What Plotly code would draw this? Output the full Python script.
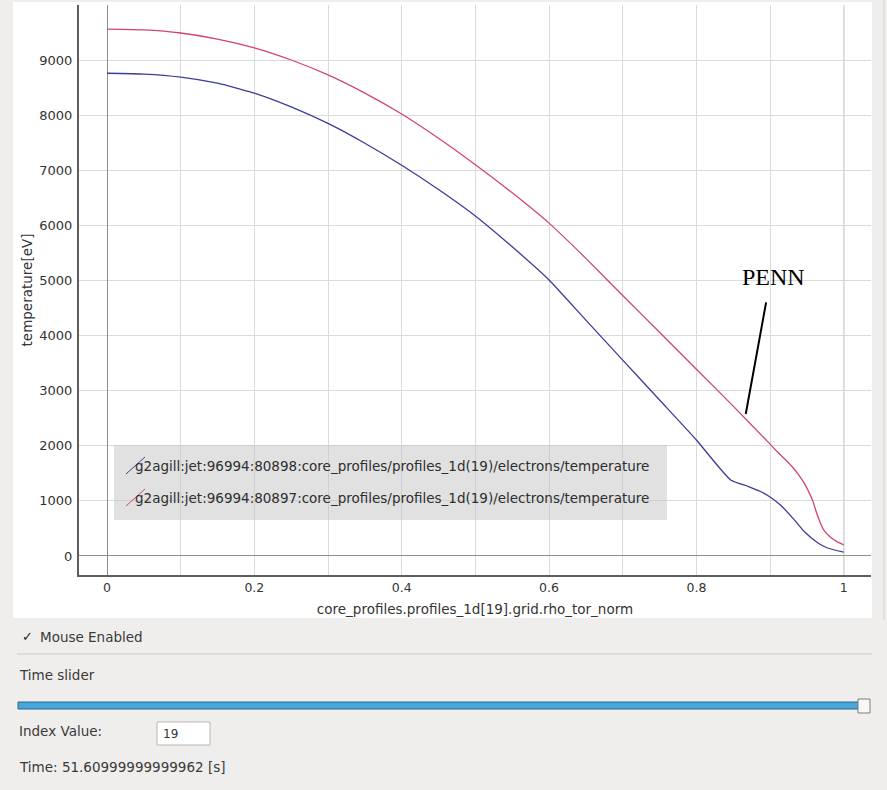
import plotly.graph_objects as go

# ---------------- data ----------------
rho_blue = [0.00, 0.05, 0.10, 0.15, 0.18, 0.20, 0.25, 0.30, 0.35, 0.40, 0.45, 0.50, 0.55, 0.60,
            0.65, 0.70, 0.75, 0.80, 0.8465, 0.87, 0.887, 0.90, 0.914, 0.932, 0.946, 0.965, 0.978, 1.00]
te_blue = [8760, 8745, 8690, 8580, 8475, 8400, 8150, 7850, 7490, 7090, 6650, 6170, 5610, 5009,
           4280, 3555, 2830, 2105, 1380, 1265, 1170, 1070, 925, 670, 450, 236, 145, 70]

rho_red = [0.00, 0.05, 0.10, 0.15, 0.20, 0.25, 0.30, 0.35, 0.40, 0.45, 0.50, 0.55, 0.60,
           0.65, 0.70, 0.75, 0.80, 0.85, 0.90, 0.91, 0.92, 0.93, 0.94, 0.946,
           0.953, 0.958, 0.962, 0.967, 0.973, 0.982, 0.991, 1.00]
te_red = [9560, 9545, 9490, 9380, 9220, 9000, 8730, 8400, 8020, 7580, 7100, 6590, 6040,
          5400, 4726, 4060, 3390, 2720, 2030, 1890, 1760, 1620, 1450, 1330,
          1150, 1000, 830, 640, 470, 340, 260, 200]

series_names = [
    "g2agill:jet:96994:80898:core_profiles/profiles_1d(19)/electrons/temperature",
    "g2agill:jet:96994:80897:core_profiles/profiles_1d(19)/electrons/temperature",
]
series_colors = ["#3c3c9c", "#d2446e"]

x_title = "core_profiles.profiles_1d[19].grid.rho_tor_norm"
y_title = "temperature[eV]"
note_text = "PENN"
note_tip = (0.867, 2577)
note_tail = (0.895, 4628)
note_label = (0.905, 5063)

index_value = "19"
time_text = "Time: 51.60999999999962 [s]"

# ---------------- layout geometry ----------------
W, H = 887, 790
ML, MR, MT, MB = 79, 16, 5, 215
PW, PH = W - ML - MR, H - MT - MB


def px(x):
    return (x - ML) / PW


def py(y):
    return (H - MB - y) / PH


FONT = "DejaVu Sans, Verdana, sans-serif"
GRID = "#dadada"

fig = go.Figure()
fig.add_trace(go.Scatter(x=rho_blue, y=te_blue, mode="lines", name=series_names[0],
                         line=dict(color=series_colors[0], width=1.3, shape="spline", smoothing=0.5),
                         showlegend=False))
fig.add_trace(go.Scatter(x=rho_red, y=te_red, mode="lines", name=series_names[1],
                         line=dict(color=series_colors[1], width=1.3, shape="spline", smoothing=0.5),
                         showlegend=False))

shapes = []
annotations = []

# white panel behind plot
shapes.append(dict(type="rect", xref="paper", yref="paper", x0=px(13), x1=px(872),
                   y0=py(2), y1=py(618), fillcolor="white", line=dict(width=0), layer="below"))
# right edge strip line
shapes.append(dict(type="line", xref="paper", yref="paper", x0=px(884), x1=px(884),
                   y0=py(0), y1=py(620), line=dict(color="#d6d4d1", width=1), layer="below"))
# vertical line at x = 1
shapes.append(dict(type="line", xref="x", yref="paper", x0=1, x1=1, y0=0, y1=1,
                   line=dict(color="#8e8e8e", width=1), layer="below"))

# manual legend box
shapes.append(dict(type="rect", xref="paper", yref="paper", x0=px(114), x1=px(667),
                   y0=py(445), y1=py(520), fillcolor="rgba(196,196,196,0.5)",
                   line=dict(width=0), layer="above"))
for i, (nm, col) in enumerate(zip(series_names, series_colors)):
    yc = 466 + i * 32
    shapes.append(dict(type="line", xref="paper", yref="paper", x0=px(126), x1=px(145),
                       y0=py(yc + 8), y1=py(yc - 9), line=dict(color=col, width=1), layer="above"))
    annotations.append(dict(xref="paper", yref="paper", x=px(133), y=py(yc), text=nm,
                            showarrow=False, xanchor="left", yanchor="middle",
                            font=dict(family=FONT, size=13.5, color="#2e2e2e")))

# PENN annotation
annotations.append(dict(x=note_tip[0], y=note_tip[1], ax=note_tail[0], ay=note_tail[1],
                        axref="x", ayref="y", xref="x", yref="y", text="", showarrow=True,
                        arrowhead=0, arrowwidth=2, arrowcolor="black"))
annotations.append(dict(x=note_label[0], y=note_label[1], xref="x", yref="y", text=note_text,
                        showarrow=False, xanchor="center", yanchor="middle",
                        font=dict(family="Liberation Serif, DejaVu Serif, serif", size=24, color="black")))

# ---------------- widgets below chart ----------------
WFONT = dict(family=FONT, size=13.5, color="#3a3a3a")
annotations.append(dict(xref="paper", yref="paper", x=px(20), y=py(637), text="<b>✓</b>",
                        showarrow=False, xanchor="left", yanchor="middle",
                        font=dict(family=FONT, size=13, color="#222")))
annotations.append(dict(xref="paper", yref="paper", x=px(38), y=py(637), text="Mouse Enabled",
                        showarrow=False, xanchor="left", yanchor="middle", font=WFONT))
shapes.append(dict(type="line", xref="paper", yref="paper", x0=px(17), x1=px(872),
                   y0=py(654), y1=py(654), line=dict(color="#cfccc8", width=1)))
annotations.append(dict(xref="paper", yref="paper", x=px(17), y=py(675), text="Time slider",
                        showarrow=False, xanchor="left", yanchor="middle", font=WFONT))
# slider groove
shapes.append(dict(type="rect", xref="paper", yref="paper", x0=px(18), x1=px(864),
                   y0=py(709), y1=py(702), fillcolor="#47a6dc",
                   line=dict(color="#2f6485", width=1)))
# slider handle
shapes.append(dict(type="rect", xref="paper", yref="paper", x0=px(858), x1=px(870),
                   y0=py(713), y1=py(699), fillcolor="#f7f7f7",
                   line=dict(color="#7d7d7d", width=1)))
annotations.append(dict(xref="paper", yref="paper", x=px(17), y=py(731), text="Index Value:",
                        showarrow=False, xanchor="left", yanchor="middle", font=WFONT))
shapes.append(dict(type="rect", xref="paper", yref="paper", x0=px(157), x1=px(210),
                   y0=py(745), y1=py(722), fillcolor="white",
                   line=dict(color="#b9b7b4", width=1)))
annotations.append(dict(xref="paper", yref="paper", x=px(161), y=py(734), text=index_value,
                        showarrow=False, xanchor="left", yanchor="middle",
                        font=dict(family=FONT, size=12, color="#333")))
annotations.append(dict(xref="paper", yref="paper", x=px(17), y=py(767), text=time_text,
                        showarrow=False, xanchor="left", yanchor="middle", font=WFONT))

fig.update_layout(
    width=W, height=H,
    margin=dict(l=ML, r=MR, t=MT, b=MB, pad=0),
    paper_bgcolor="#efeeec",
    plot_bgcolor="white",
    showlegend=False,
    shapes=shapes,
    annotations=annotations,
    font=dict(family=FONT, size=13, color="#333"),
    xaxis=dict(
        range=[-0.038, 1.037], dtick=0.2, tick0=0,
        showgrid=True, gridcolor=GRID, gridwidth=1,
        minor=dict(dtick=0.1, showgrid=True, gridcolor=GRID, gridwidth=1),
        zeroline=True, zerolinecolor="#8e8e8e", zerolinewidth=1,
        showline=True, linecolor="#5e5e5e", linewidth=2,
        ticks="", tickfont=dict(family=FONT, size=12.5, color="#333"),
        title=dict(text=x_title, font=dict(family=FONT, size=13.5, color="#333"), standoff=11),
        fixedrange=True,
    ),
    yaxis=dict(
        range=[-345, 9998], dtick=1000, tick0=0, tickformat="d",
        showgrid=True, gridcolor=GRID, gridwidth=1,
        zeroline=True, zerolinecolor="#8e8e8e", zerolinewidth=1,
        showline=True, linecolor="#5e5e5e", linewidth=2,
        ticks="", ticklabelstandoff=2, tickfont=dict(family=FONT, size=13, color="#333"),
        title=dict(text=y_title, font=dict(family=FONT, size=13.5, color="#333"), standoff=4),
        fixedrange=True,
    ),
)

fig.write_html("out.html")
